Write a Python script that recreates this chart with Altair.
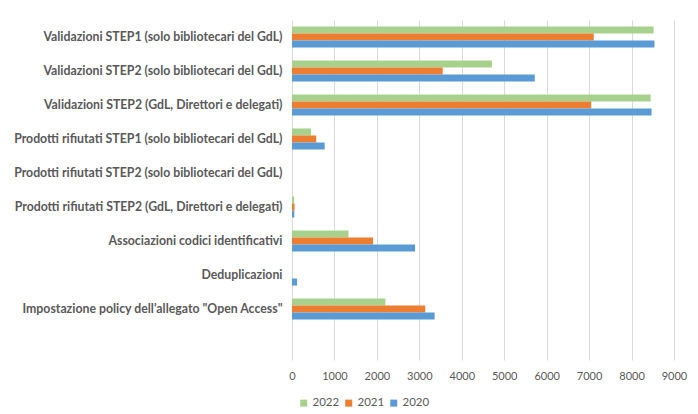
import altair as alt
import pandas as pd

categories = [
    "Validazioni STEP1 (solo bibliotecari del GdL)",
    "Validazioni STEP2 (solo bibliotecari del GdL)",
    "Validazioni STEP2 (GdL, Direttori e delegati)",
    "Prodotti rifiutati STEP1 (solo bibliotecari del GdL)",
    "Prodotti rifiutati STEP2 (solo bibliotecari del GdL)",
    "Prodotti rifiutati STEP2 (GdL, Direttori e delegati)",
    "Associazioni codici identificativi",
    "Deduplicazioni",
    "Impostazione policy dell'allegato \"Open Access\"",
]
years = ["2022", "2021", "2020"]
values_2022 = [8520, 4710, 8450, 450, 0, 50, 1330, 0, 2200]
values_2021 = [7110, 3550, 7050, 570, 0, 60, 1910, 0, 3140]
values_2020 = [8540, 5720, 8470, 770, 0, 55, 2900, 120, 3360]
colors = ["#A9D18E", "#ED7D31", "#5B9BD5"]
x_ticks = [0, 1000, 2000, 3000, 4000, 5000, 6000, 7000, 8000, 9000]

rows = []
for yr, vals in zip(years, [values_2022, values_2021, values_2020]):
    for c, v in zip(categories, vals):
        rows.append({"categoria": c, "anno": yr, "valore": v})
df = pd.DataFrame(rows)

font = "Lato"

chart = alt.Chart(df).mark_bar().encode(
    y=alt.Y(
        "categoria:N",
        scale=alt.Scale(domain=categories + [" "], paddingInner=0.38, paddingOuter=0.19),
        axis=alt.Axis(
            title=None, domain=False, ticks=False, labelPadding=10,
            labelFont=font, labelFontSize=12.3, labelFontWeight="bold",
            labelColor="#595959", labelLimit=300,
        ),
    ),
    yOffset=alt.YOffset("anno:N", sort=years, scale=alt.Scale(domain=years, paddingInner=0, paddingOuter=0)),
    x=alt.X(
        "valore:Q",
        scale=alt.Scale(domain=[0, 9000], nice=False),
        axis=alt.Axis(
            title=None, values=x_ticks, format="d", domain=False, ticks=False, labelPadding=10,
            labelFont=font, labelFontSize=11, labelColor="#595959",
            gridColor="#D9D9D9", gridWidth=1, labelFlush=False,
        ),
    ),
    color=alt.Color(
        "anno:N",
        scale=alt.Scale(domain=years, range=colors),
        legend=alt.Legend(
            title=None, orient="none", legendX=6, legendY=377, direction="horizontal",
            symbolType="square", symbolSize=49, symbolStrokeWidth=0,
            labelFont=font, labelFontSize=11.5, labelColor="#595959",
            columnPadding=3, labelOffset=3, padding=0,
        ),
    ),
).properties(
    width=382, height=340,
    autosize=alt.AutoSizeParams(type="none"),
    padding={"left": 284, "top": 12, "right": 16, "bottom": 52},
).configure_view(stroke=None)

chart.save("out.html", embed_options={"renderer": "svg", "actions": False})
